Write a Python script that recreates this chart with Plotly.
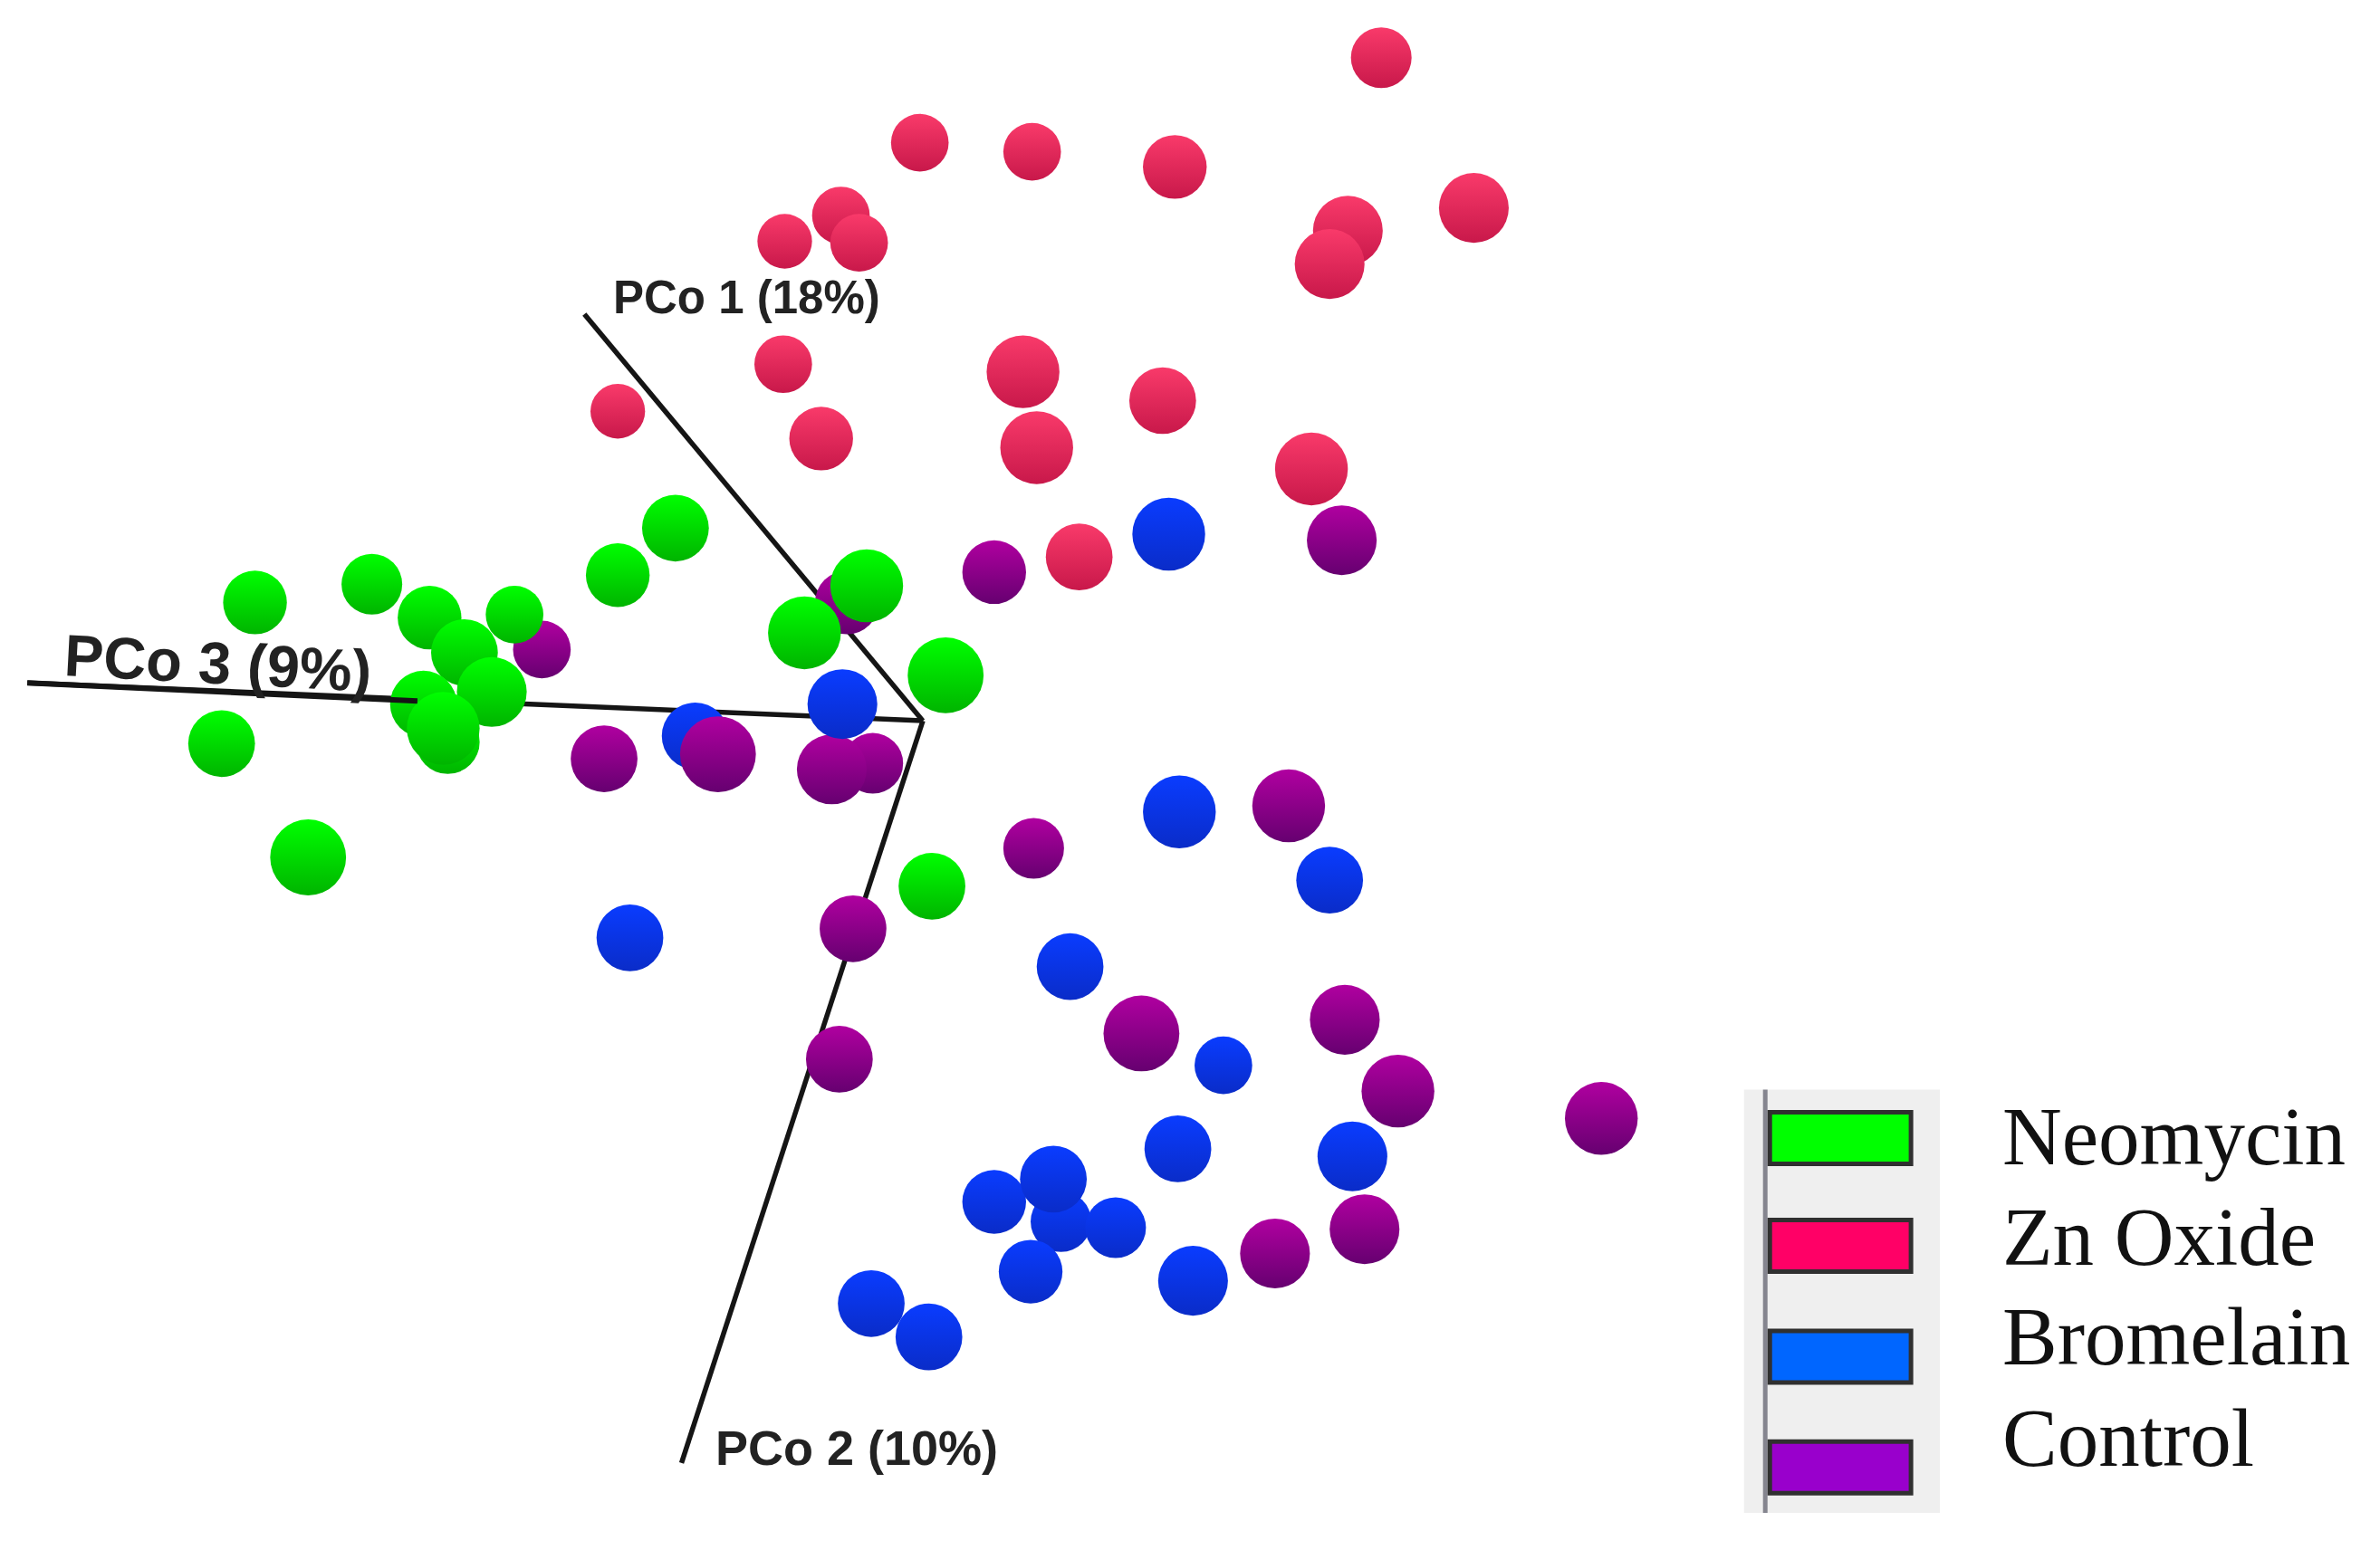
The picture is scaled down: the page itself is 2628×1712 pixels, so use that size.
import plotly.graph_objects as go

neo_x = [168, 245, 283, 339, 306, 279, 295, 324, 292, 146, 203, 407, 445, 571, 530, 623, 614]
neo_y = [397, 385, 407, 405, 430, 464, 489, 456, 480, 490, 565, 379, 348, 386, 417, 445, 584]
neo_r = [21, 20, 21, 19, 22, 22, 21, 23, 24, 22, 25, 21, 22, 24, 24, 25, 22]

zn_x = [910, 606, 680, 774, 971, 888, 876, 517, 554, 566, 516, 674, 766, 407, 541, 683, 864, 711]
zn_y = [38, 94, 100, 110, 137, 152, 174, 159, 142, 160, 240, 245, 264, 271, 289, 295, 309, 367]
zn_r = [20, 19, 19, 21, 23, 23, 23, 18, 19, 19, 19, 24, 22, 18, 21, 24, 24, 22]

bro_x = [770, 555, 458, 777, 876, 415, 705, 806, 776, 891, 699, 735, 655, 694, 679, 786, 574, 612]
bro_y = [352, 464, 485, 535, 580, 618, 637, 702, 757, 762, 805, 809, 792, 777, 838, 844, 859, 881]
bro_r = [24, 23, 22, 24, 22, 22, 22, 19, 22, 23, 20, 20, 21, 22, 21, 23, 22, 22]

# Control spheres sitting behind everything else
ctl_x = [884, 655, 558, 357, 398, 575, 548, 849, 681, 562, 553, 752, 886, 921, 1055, 899, 840]
ctl_y = [356, 377, 397, 428, 500, 503, 507, 531, 559, 612, 698, 681, 672, 719, 737, 810, 826]
ctl_r = [23, 21, 21, 19, 22, 20, 23, 24, 20, 22, 22, 25, 23, 24, 24, 23, 23]
# The one Control sphere in front of a Bromelain sphere
ctl_front_x = [473]
ctl_front_y = [497]
ctl_front_r = [25]

axis_origin = (608, 475)
axis_ends = {"PCo 1": (385, 207), "PCo 2": (449, 964), "PCo 3": (18, 450)}
pco3_front_end = (275, 462)

legend_names = ["Neomycin", "Zn Oxide", "Bromelain", "Control"]
legend_colors = ["#00ff00", "#ff0066", "#0066ff", "#9900cc"]
legend_y = [750, 821, 894, 967]
legend_text_y = [749, 815, 881, 948]

SIZEREF = 0.2984  # radius in preview px -> marker diameter in page px
BODY_MARGIN = 8 / 1.676  # the page's 8px body margin, in preview units


def spheres(x, y, r, color, dark, name):
    return go.Scatter(
        x=x,
        y=y,
        mode="markers",
        name=name,
        showlegend=False,
        marker=dict(
            size=r,
            sizemode="diameter",
            sizeref=SIZEREF,
            color=color,
            opacity=1,
            gradient=dict(type="vertical", color=dark),
            line=dict(width=0),
        ),
    )


def axis_line(p0, p1, width=5.5):
    return go.Scatter(
        x=[p0[0], p1[0]],
        y=[p0[1], p1[1]],
        mode="lines",
        showlegend=False,
        line=dict(color="#151515", width=width),
    )


fig = go.Figure()
for end in axis_ends.values():
    fig.add_trace(axis_line(axis_origin, end))
fig.add_trace(spheres(ctl_x, ctl_y, ctl_r, "#b000a0", "#660070", "Control"))
fig.add_trace(spheres(bro_x, bro_y, bro_r, "#0a3cff", "#0a2cc8", "Bromelain"))
fig.add_trace(spheres(ctl_front_x, ctl_front_y, ctl_front_r, "#b000a0", "#660070", "Control"))
fig.add_trace(spheres(zn_x, zn_y, zn_r, "#f93a6a", "#c8184a", "Zn Oxide"))
fig.add_trace(spheres(neo_x, neo_y, neo_r, "#00ff00", "#00b400", "Neomycin"))
fig.add_trace(axis_line(axis_ends["PCo 3"], pco3_front_end, 6))

# Legend panel with the grey rule on its left
fig.add_shape(type="rect", x0=1149, x1=1278, y0=718, y1=997, fillcolor="#efefef", line_width=0, layer="below")
fig.add_shape(type="line", x0=1163, x1=1163, y0=718, y1=997, line=dict(color="#85858f", width=5))
for name, color, sy, ty in zip(legend_names, legend_colors, legend_y, legend_text_y):
    fig.add_shape(
        type="rect", x0=1166, x1=1259, y0=sy - 17, y1=sy + 17,
        fillcolor=color, line=dict(color="#303030", width=5),
    )
    fig.add_annotation(
        x=1318, y=ty, text=name, showarrow=False, xanchor="left", yanchor="middle",
        font=dict(family="Liberation Serif", size=91, color="#111111"),
    )

fig.add_annotation(
    x=403, y=196, text="<b>PCo 1 (18%)</b>", showarrow=False, xanchor="left", yanchor="middle",
    font=dict(family="Liberation Sans", size=51, color="#222222"),
)
fig.add_annotation(
    x=470, y=954, text="<b>PCo 2 (10%)</b>", showarrow=False, xanchor="left", yanchor="middle",
    font=dict(family="Liberation Sans", size=54, color="#222222"),
)
fig.add_annotation(
    x=144, y=437, text="<b>PCo 3 (9%)</b>", showarrow=False, textangle=3,
    font=dict(family="Liberation Sans", size=65, color="#222222"),
)

fig.update_layout(
    width=2620,
    height=1704,
    margin=dict(l=0, r=0, t=0, b=0),
    paper_bgcolor="white",
    plot_bgcolor="white",
    showlegend=False,
    xaxis=dict(range=[BODY_MARGIN, 1568], visible=False),
    yaxis=dict(range=[1021.4, BODY_MARGIN], visible=False),
)
fig.write_html("out.html")
